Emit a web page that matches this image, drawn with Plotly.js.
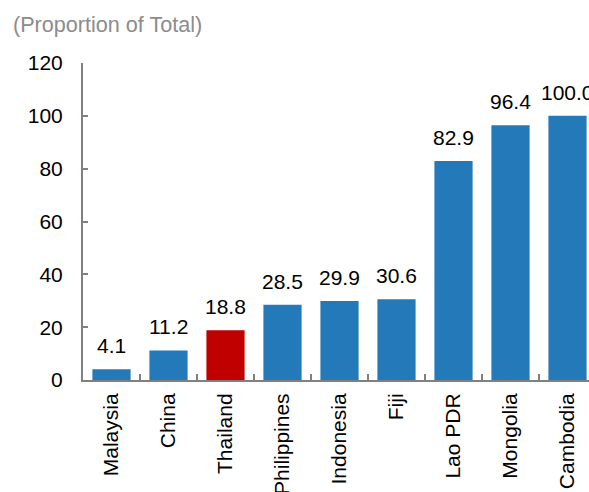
<!DOCTYPE html>
<html>
<head>
<meta charset="utf-8">
<script src="https://cdn.plot.ly/plotly-3.0.1.min.js"></script>
<style>
html,body{margin:0;padding:0;overflow:hidden;background:#fff;}
#chart{width:620px;height:520px;}
</style>
</head>
<body>
<div id="chart"></div>
<script>
var countries = ["Malaysia","China","Thailand","Philippines","Indonesia","Fiji","Lao PDR","Mongolia","Cambodia"];
var values = [4.1, 11.2, 18.8, 28.5, 29.9, 30.6, 82.9, 96.4, 100.0];
var labels = ["4.1","11.2","18.8","28.5","29.9","30.6","82.9","96.4","100.0"];
var highlight = "Thailand";
var yTicks = [0, 20, 40, 60, 80, 100, 120];

var BLUE = "#2479B9", RED = "#C00000";
var colors = countries.map(function(c){ return c === highlight ? RED : BLUE; });

var FAM = "Liberation Sans, Arial, sans-serif";
var font = {family: FAM, size: 21, color: "#000"};

var annotations = countries.map(function(c, i){
  return {x: c, y: values[i], xref: "x", yref: "y", text: labels[i], showarrow: false,
          yanchor: "bottom", xanchor: "center", yshift: 10, font: font};
});

var data = [{
  type: "bar", x: countries, y: values,
  marker: {color: colors, line: {width: 0}},
  width: 0.67, hoverinfo: "none"
}];

var layout = {
  width: 620, height: 520,
  margin: {l: 83, r: 24, t: 63, b: 140},
  paper_bgcolor: "#fff", plot_bgcolor: "#fff",
  showlegend: false,
  font: font,
  xaxis: {
    type: "category", showline: true, linecolor: "#808080", linewidth: 2,
    ticks: "inside", tickson: "boundaries", ticklen: 6, tickcolor: "#808080", tickwidth: 2,
    tickangle: -90, tickfont: font, showgrid: false, zeroline: false,
    ticklabelstandoff: 3
  },
  yaxis: {
    range: [0, 120], tickvals: yTicks, ticktext: yTicks.map(String),
    showline: true, linecolor: "#808080", linewidth: 2,
    ticks: "inside", ticklen: 5, tickcolor: "#808080", tickwidth: 2,
    tickfont: font, showgrid: false, zeroline: false,
    ticklabelstandoff: 14
  },
  annotations: annotations.concat([{
    xref: "paper", yref: "paper", x: 0, y: 1, xshift: -72, yshift: 39,
    xanchor: "left", yanchor: "middle", showarrow: false,
    text: "(Proportion of Total)",
    font: {family: FAM, size: 21.6, color: "#8C8C8C"}
  }])
};

Plotly.newPlot("chart", data, layout, {displayModeBar: false, staticPlot: true});
</script>
</body>
</html>
